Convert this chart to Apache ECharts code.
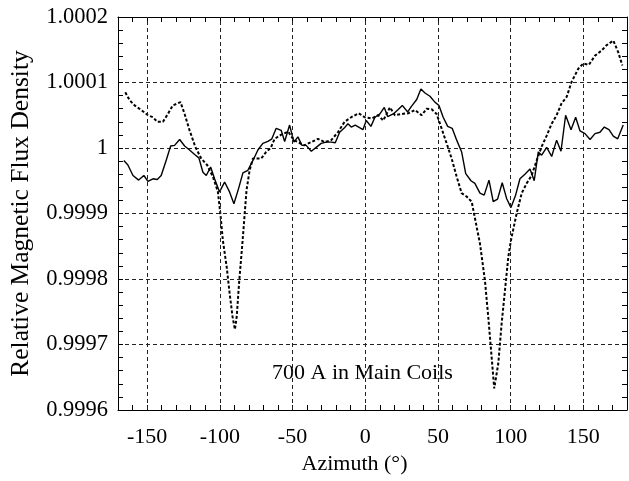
<!DOCTYPE html>
<html>
<head>
<meta charset="utf-8">
<script src="https://cdn.jsdelivr.net/npm/echarts@6/dist/echarts.min.js"></script>
<style>
    html, body { margin: 0; padding: 0; background: #fff; }
    #chart { width: 629px; height: 481px; }
</style>
</head>
<body>
<div id="chart"></div>
<script>
// azimuth (deg) and relative flux density, solid curve
var solidAz = [-166, -163.2, -159.7, -155.8, -152.2, -149.4, -146, -143, -140.3, -136.9,
    -133.8, -131.1, -127.6, -124.2, -120.8, -117.3, -114.4, -111.6, -109.3, -106.3,
    -103.6, -100.2, -96.7, -93.3, -90.3, -87.1, -84.1, -80.7, -77.2, -73.8,
    -70.4, -66.9, -64.2, -61.2, -57.8, -55.4, -52, -49, -46.3, -43.5,
    -40.6, -37.1, -33.7, -30.3, -26.8, -23.4, -20.6, -17.6, -14.6, -11.9,
    -9.6, -6.9, -3.9, -1.6, 0.7, 3.9, 6.7, 10.1, 13.1, 15.4,
    19.3, 22.3, 25.5, 29.2, 31.9, 35.4, 38.3, 41.1, 44.5, 47.9,
    50.7, 53.6, 56.7, 59.8, 62.9, 66.3, 69.1, 72.7, 75.4, 78.9,
    81.8, 85.1, 88, 91, 94.2, 97.2, 100.2, 103.4, 106.4, 109.8,
    113.3, 116.2, 119, 121.3, 124.8, 128.2, 131.6, 134.6, 137.8, 141.5,
    144.7, 147.7, 151.1, 154.6, 158, 161.4, 164.4, 167.6, 170.6, 173.6, 177.4];
var solidVal = [0.999981, 0.999974, 0.999958, 0.999951, 0.999958, 0.999949, 0.999953, 0.999952, 0.999958, 0.999981,
    1.000003, 1.000004, 1.000013, 1.000003, 0.999997, 0.999990, 0.999985, 0.999963, 0.999958, 0.999971,
    0.999953, 0.999933, 0.999948, 0.999933, 0.999915, 0.999938, 0.999962, 0.999966, 0.999981, 0.999997,
    1.000007, 1.000010, 1.000014, 1.000030, 1.000027, 1.000010, 1.000035, 1.000009, 1.000017, 1.000004,
    1.000004, 0.999995, 1.000001, 1.000007, 1.000009, 1.000009, 1.000008, 1.000024, 1.000030, 1.000037,
    1.000032, 1.000035, 1.000031, 1.000028, 1.000042, 1.000033, 1.000047, 1.000052, 1.000062, 1.000048,
    1.000052, 1.000058, 1.000065, 1.000055, 1.000064, 1.000074, 1.000090, 1.000084, 1.000079, 1.000070,
    1.000065, 1.000047, 1.000033, 1.000030, 1.000012, 0.999994, 0.999961, 0.999950, 0.999946, 0.999931,
    0.999928, 0.999951, 0.999918, 0.999922, 0.999947, 0.999923, 0.999909, 0.999928, 0.999953, 0.999960,
    0.999968, 0.999950, 0.999994, 0.999989, 1.000001, 0.999987, 1.000012, 0.999995, 1.000050, 1.000028,
    1.000047, 1.000026, 1.000022, 1.000013, 1.000022, 1.000024, 1.000032, 1.000028, 1.000018, 1.000014, 1.000035];

// dashed curve
var dashAz = [-165, -162, -158.6, -154, -149.4, -146, -143, -139.1, -135.7, -132.3,
    -127, -124.2, -120.8, -116.9, -112.8, -108.7, -104.7, -101.3, -99.4, -97.9,
    -95.3, -93.5, -91.2, -89.6, -88.4, -86.6, -84.3, -82.7, -81.6, -79.5,
    -77.2, -71.5, -68.1, -65, -62.3, -58, -53, -49, -46.3, -42,
    -37.1, -32.5, -27.9, -23.4, -18.8, -14.2, -9.6, -4.5, -0.4, 4.4,
    8.9, 12.4, 17, 20.4, 25, 29.6, 34.2, 38.8, 42.2, 45.7,
    49.1, 52.5, 56, 59.4, 62.9, 66.3, 69.7, 73.2, 78.9, 82.3,
    84.6, 86.9, 88.7, 91.5, 93.8, 96.1, 98.4, 100.2, 104.1, 107.6,
    111, 114.4, 117.9, 121.3, 124.8, 128.2, 131.6, 135, 138.5, 141.9,
    146.5, 149.9, 153.8, 158, 162.6, 166, 170.6, 174, 176.8];
var dashVal = [1.000085, 1.000073, 1.000065, 1.000058, 1.000050, 1.000047, 1.000040, 1.000040, 1.000052, 1.000065,
    1.000070, 1.000052, 1.000027, 1.000002, 0.999984, 0.999974, 0.999956, 0.999933, 0.999895, 0.999859,
    0.999819, 0.999783, 0.999742, 0.999723, 0.999742, 0.999798, 0.999859, 0.999905, 0.999936, 0.999966,
    0.999984, 0.999984, 0.999994, 1.000000, 1.000014, 1.000020, 1.000025, 1.000012, 1.000009, 1.000004,
    1.000009, 1.000014, 1.000009, 1.000012, 1.000024, 1.000040, 1.000047, 1.000053, 1.000047, 1.000045,
    1.000050, 1.000042, 1.000062, 1.000050, 1.000052, 1.000053, 1.000058, 1.000050, 1.000060, 1.000059,
    1.000052, 1.000030, 1.000007, 0.999984, 0.999956, 0.999931, 0.999926, 0.999918, 0.999854, 0.999798,
    0.999742, 0.999681, 0.999633, 0.999671, 0.999732, 0.999783, 0.999834, 0.999859, 0.999900, 0.999931,
    0.999946, 0.999958, 0.999981, 1.000002, 1.000019, 1.000037, 1.000050, 1.000068, 1.000078, 1.000101,
    1.000121, 1.000129, 1.000127, 1.000141, 1.000149, 1.000157, 1.000164, 1.000146, 1.000126];

var xGridLines = [-150, -100, -50, 0, 50, 100, 150];

function pairs(xs, ys) {
    var out = [];
    for (var i = 0; i < xs.length; i++) {
        out.push([xs[i], ys[i]]);
    }
    return out;
}

var font = '"Liberation Serif", "Times New Roman", serif';
var gridDash = {color: '#222', width: 1, type: [4, 3]};

var xBase = {
    type: 'value', min: -170, max: 180, interval: 10,
    axisLine: {show: true, onZero: false, lineStyle: {color: '#000', width: 1}},
    axisTick: {show: true, inside: true, length: 5, lineStyle: {color: '#000'}},
    splitLine: {show: false}
};
var yBase = {
    type: 'value', min: 0.9996, max: 1.0002, interval: 0.0001,
    axisLine: {show: true, onZero: false, lineStyle: {color: '#000', width: 1}},
    axisTick: {show: true, inside: true, length: 5, lineStyle: {color: '#000'}},
    minorTick: {show: true, splitNumber: 5, length: 5, lineStyle: {color: '#000'}}
};

var option = {
    animation: false,
    backgroundColor: '#fff',
    grid: {left: 118, right: 2, top: 17, bottom: 71, containLabel: false, outerBoundsMode: 'none'},
    xAxis: [
        Object.assign({}, xBase, {
            position: 'bottom',
            name: 'Azimuth (°)',
            nameLocation: 'middle',
            nameGap: 43,
            nameTextStyle: {fontFamily: font, fontSize: 22, color: '#000', padding: [0, 36, 0, 0]},
            axisLabel: {
                margin: 16, fontFamily: font, fontSize: 22, color: '#000',
                formatter: function (v) { return v % 50 === 0 ? String(v) : ''; }
            }
        }),
        Object.assign({}, xBase, {position: 'top', axisLabel: {show: false}})
    ],
    yAxis: [
        Object.assign({}, yBase, {
            position: 'left',
            name: 'Relative Magnetic Flux Density',
            nameLocation: 'middle',
            nameGap: 84,
            nameTextStyle: {fontFamily: font, fontSize: 25.5, color: '#000'},
            axisLabel: {margin: 10, fontFamily: font, fontSize: 22.5, color: '#000'},
            splitLine: {show: true, lineStyle: gridDash}
        }),
        Object.assign({}, yBase, {position: 'right', axisLabel: {show: false}, splitLine: {show: false}})
    ],
    graphic: [{
        type: 'text', left: 272, top: 362,
        style: {text: '700 A in Main Coils', fontFamily: font, fontSize: 22, fill: '#000'}
    }],
    series: [
        {
            type: 'line',
            data: pairs(solidAz, solidVal),
            showSymbol: false,
            lineStyle: {color: '#000', width: 1.4},
            markLine: {
                silent: true,
                symbol: 'none',
                label: {show: false},
                lineStyle: gridDash,
                data: xGridLines.map(function (x) { return {xAxis: x}; })
            }
        },
        {
            type: 'line',
            data: pairs(dashAz, dashVal),
            showSymbol: false,
            lineStyle: {color: '#000', width: 2, type: [3, 2]}
        }
    ]
};

var myChart = echarts.init(document.getElementById('chart'));
myChart.setOption(option);
</script>
</body>
</html>
